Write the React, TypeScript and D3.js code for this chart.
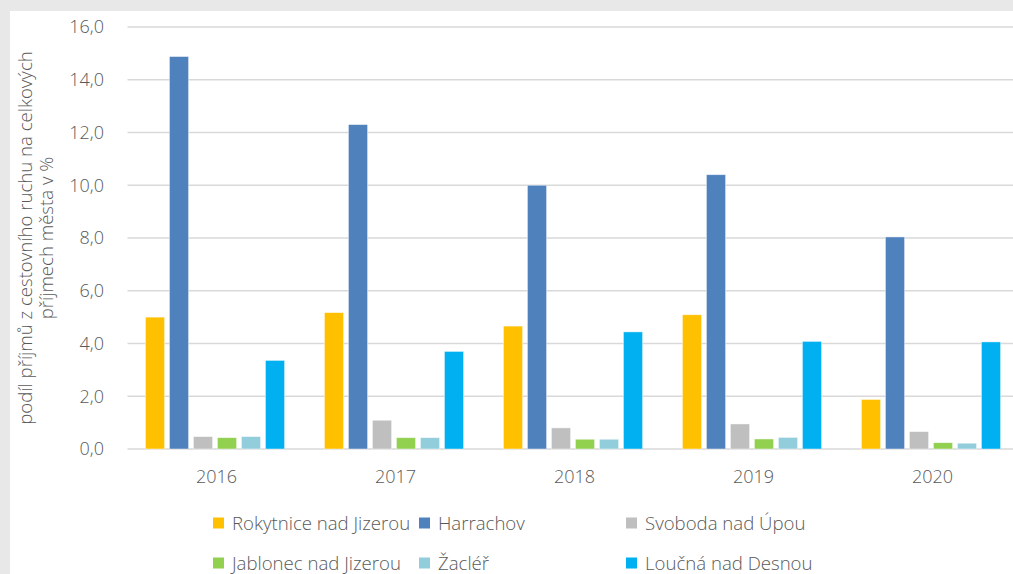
import React from "react";
import * as d3 from "d3";

const years = ["2016", "2017", "2018", "2019", "2020"];
const seriesNames = [
  "Rokytnice nad Jizerou",
  "Harrachov",
  "Svoboda nad Úpou",
  "Jablonec nad Jizerou",
  "Žacléř",
  "Loučná nad Desnou",
];
const seriesColors = ["#FFC000", "#4F81BD", "#BFBFBF", "#92D050", "#92CDDC", "#00B0F0"];

const rokytnice = [5.0, 5.17, 4.66, 5.09, 1.88];
const harrachov = [14.88, 12.3, 10.0, 10.4, 8.04];
const svoboda = [0.47, 1.09, 0.8, 0.95, 0.66];
const jablonec = [0.43, 0.43, 0.37, 0.38, 0.24];
const zacler = [0.47, 0.43, 0.37, 0.44, 0.22];
const loucna = [3.36, 3.7, 4.44, 4.08, 4.06];
const seriesValues = [rokytnice, harrachov, svoboda, jablonec, zacler, loucna];

const yTicks = [0, 2, 4, 6, 8, 10, 12, 14, 16];
const yLabelLines = ["podíl příjmů z cestovního ruchu na celkových", "příjmech města v %"];

// legend layout: [x of square, row]
const legendPos: [number, number][] = [
  [213, 0],
  [419, 0],
  [626, 0],
  [213, 1],
  [419, 1],
  [626, 1],
];

export default function App() {
  const W = 1013;
  const H = 574;
  const left = 127.5;
  const right = 1022.5;
  const top = 27;
  const bottom = 449;

  const x0 = d3.scaleBand<string>().domain(years).range([left, right]).padding(0);
  const x1 = d3
    .scaleBand<string>()
    .domain(seriesNames)
    .range([15.5, 159.5])
    .paddingInner(0.2)
    .paddingOuter(0.1);
  const y = d3.scaleLinear().domain([0, 16]).range([bottom, top]);
  const fmt = (v: number) => v.toFixed(1).replace(".", ",");
  const font = "'Open Sans', 'Noto Sans', sans-serif";
  const txt = "#595959";

  return (
    <svg
      width={W}
      height={H}
      style={{ position: "absolute", left: 0, top: 0 }}
      fontFamily={font}
    >
      <rect x={0} y={0} width={W} height={H} fill="#e8e8e8" />
      <rect x={10} y={11} width={W - 10} height={H - 11} fill="#ffffff" />

      {yTicks.map((t) => (
        <g key={t}>
          <line x1={left} x2={W} y1={y(t)} y2={y(t)} stroke="#d9d9d9" strokeWidth={1.5} />
          <text
            x={104}
            y={y(t)}
            dy="0.35em"
            textAnchor="end"
            fontSize={18}
            fontWeight={300}
            fill={txt}
          >
            {fmt(t)}
          </text>
        </g>
      ))}

      {seriesNames.map((s, si) => (
        <g key={s}>
          {years.map((yr, i) => {
            const v = seriesValues[si][i];
            const bx = (x0(yr) as number) + (x1(s) as number);
            return (
              <rect
                key={yr}
                x={bx}
                y={y(v)}
                width={x1.bandwidth()}
                height={y(0) - y(v)}
                fill={seriesColors[si]}
                stroke="#ffffff"
                strokeOpacity={0.6}
                strokeWidth={0.75}
              />
            );
          })}
        </g>
      ))}

      {years.map((yr) => (
        <text
          key={yr}
          x={(x0(yr) as number) + x0.bandwidth() / 2 - 0.5}
          y={483}
          textAnchor="middle"
          fontSize={18}
          fontWeight={300}
          fill={txt}
        >
          {yr}
        </text>
      ))}

      {yLabelLines.map((l, i) => (
        <text
          key={i}
          transform={`translate(${32 + i * 21},238) rotate(-90)`}
          textAnchor="middle"
          fontSize={18.6}
          fontWeight={300}
          fill={txt}
        >
          {l}
        </text>
      ))}

      {seriesNames.map((s, si) => {
        const [lx, row] = legendPos[si];
        const cy = 523 + row * 40;
        return (
          <g key={s}>
            <rect x={lx} y={cy - 5.5} width={11} height={11} fill={seriesColors[si]} />
            <text x={lx + 19} y={cy} dy="0.35em" fontSize={18.6} fontWeight={300} fill={txt}>
              {s}
            </text>
          </g>
        );
      })}
    </svg>
  );
}
